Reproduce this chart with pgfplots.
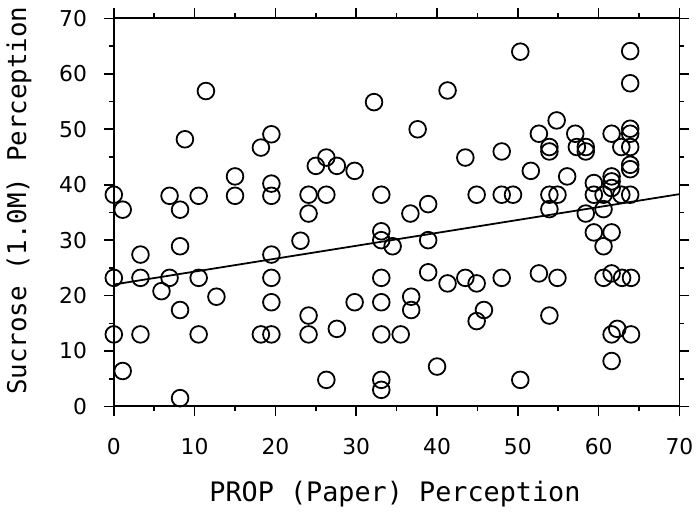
\documentclass[border=0pt]{standalone}
\usepackage{pgfplots}
\pgfplotsset{compat=1.18}
\usepackage{fontspec}
\setmainfont{DejaVu Sans Mono}
\newfontfamily\tickfont{DejaVu Sans}

\pgfplotstableread{
x y
0.0 38.2
0.0 23.2
0.0 13.0
1.1 35.5
1.1 6.4
3.3 27.4
3.3 23.2
3.3 13.0
5.9 20.8
6.9 38.0
6.9 23.2
8.2 35.5
8.2 28.9
8.2 17.4
8.2 1.5
8.8 48.2
10.5 38.0
10.5 23.2
10.5 13.0
11.4 56.9
12.7 19.8
15.0 41.5
15.0 38.0
18.2 46.7
18.2 13.0
19.5 49.1
19.5 40.2
19.5 38.0
19.5 27.4
19.5 23.2
19.5 18.8
19.5 13.0
23.1 29.9
24.1 38.2
24.1 34.8
24.1 16.4
24.1 13.0
25.0 43.4
26.3 44.9
26.3 38.2
26.3 4.8
27.6 43.4
27.6 14.0
29.8 42.5
29.8 18.8
32.2 54.9
33.1 38.2
33.1 31.6
33.1 30.0
33.1 23.2
33.1 18.8
33.1 13.0
33.1 4.8
33.1 3.0
34.5 28.9
35.5 13.0
36.7 34.8
36.8 19.8
36.8 17.4
37.6 50.0
38.9 36.5
38.9 30.0
38.9 24.2
40.0 7.2
41.3 57.0
41.3 22.2
43.5 44.9
43.5 23.2
44.9 38.2
44.9 22.2
44.9 15.4
45.8 17.4
48.0 46.0
48.0 38.2
48.0 23.2
49.4 38.2
50.3 64.0
50.3 4.8
51.6 42.5
52.6 49.2
52.6 24.0
53.9 46.8
53.9 46.0
53.9 38.2
53.9 35.6
53.9 16.4
54.8 51.6
54.9 38.2
54.9 23.2
56.1 41.5
57.1 49.2
57.3 46.8
58.4 46.8
58.4 46.0
58.4 34.8
59.4 40.3
59.4 38.2
59.4 31.4
60.6 38.2
60.6 35.6
60.6 28.9
60.6 23.2
61.6 49.2
61.6 41.5
61.6 40.6
61.6 39.4
61.6 31.4
61.6 24.0
61.6 13.0
61.6 8.2
62.3 14.0
62.8 46.8
62.8 38.2
62.9 23.2
63.9 64.1
63.9 58.3
63.9 50.1
63.9 49.2
63.9 46.8
63.9 43.6
63.9 42.8
63.9 38.2
64.0 23.2
64.0 13.0
}\prop

\begin{document}
\begin{tikzpicture}
\begin{axis}[
  width=285pt, height=195.5pt, scale only axis,
  xmin=0, xmax=70, ymin=0, ymax=70,
  xtick={0,10,...,70}, ytick={0,10,...,70},
  minor tick num=1,
  xtick pos=both, ytick pos=both,
  xticklabel pos=lower, yticklabel pos=left,
  tick align=outside,
  major tick length=5pt, minor tick length=2.5pt,
  axis line style={line width=1pt},
  every tick/.style={black, line width=0.8pt},
  /pgf/number format/assume math mode=true,
  ticklabel style={font=\tickfont\fontsize{11}{13}\selectfont},
  xticklabel style={anchor=base, yshift=-19pt},
  yticklabel style={xshift=-5pt},
  xlabel={PROP (Paper) Perception},
  ylabel={Sucrose (1.0M) Perception},
  xlabel style={font=\fontsize{13.5}{16}\selectfont, at={(axis description cs:0.497,-0.2445)}, anchor=base},
  ylabel style={font=\fontsize{13}{16}\selectfont, at={(axis description cs:-0.1674,0.53)}, anchor=center},
  clip=false,
]
\addplot[only marks, mark=o, mark size=4.2pt, mark options={line width=0.9pt, black}] table[x=x, y=y] {\prop};
\addplot[black, line width=0.9pt] coordinates {(0,22.0) (70,38.3)};
\end{axis}
\end{tikzpicture}
\end{document}
